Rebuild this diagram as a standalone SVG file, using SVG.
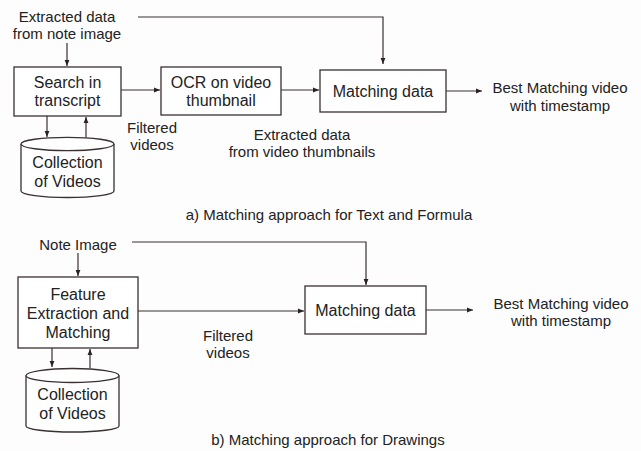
<svg xmlns="http://www.w3.org/2000/svg" width="641" height="451" viewBox="0 0 641 451">
<style>
.box{fill:#ffffff;stroke:#3a3030;stroke-width:1.3}
.cyl{fill:#ffffff;stroke:#3a3030;stroke-width:1.3}
.ln{fill:none;stroke:#3a3030;stroke-width:1.2}
.t{font-family:"Liberation Sans",Arial,sans-serif;font-size:16px;fill:#222;text-anchor:middle;dominant-baseline:central}
.s{font-family:"Liberation Sans",Arial,sans-serif;font-size:15px;fill:#222;text-anchor:middle;dominant-baseline:central}
</style>
<defs>
<marker id="ah" viewBox="0 0 10 10" refX="10" refY="5" markerWidth="6" markerHeight="6" markerUnits="userSpaceOnUse" orient="auto">
<path d="M0,1 L10,5 L0,9 z" fill="#2a2222"/>
</marker>
</defs>
<rect width="641" height="451" fill="#fdfdfd"/>

<g id="connectors">
<path class="ln" d="M138,17 H383 V64" marker-end="url(#ah)"/>
<path class="ln" d="M67,43 V66" marker-end="url(#ah)"/>
<path class="ln" d="M121,90 H160" marker-end="url(#ah)"/>
<path class="ln" d="M281,90 H319" marker-end="url(#ah)"/>
<path class="ln" d="M446,91 H482" marker-end="url(#ah)"/>
<path class="ln" d="M47,116 V137" marker-end="url(#ah)"/>
<path class="ln" d="M86,138 V117" marker-end="url(#ah)"/>

<path class="ln" d="M132,242 H366 V285" marker-end="url(#ah)"/>
<path class="ln" d="M78,253 V276" marker-end="url(#ah)"/>
<path class="ln" d="M138,311 H304" marker-end="url(#ah)"/>
<path class="ln" d="M426,310 H473" marker-end="url(#ah)"/>
<path class="ln" d="M52,348 V367" marker-end="url(#ah)"/>
<path class="ln" d="M90,368 V349" marker-end="url(#ah)"/>
</g>

<g id="label-note-a">
<text class="s" x="67" y="16">Extracted data</text>
<text class="s" x="67" y="33">from note image</text>
</g>

<g id="search">
<rect class="box" x="14" y="67" width="107" height="49"/>
<text class="t" x="67.5" y="82">Search in</text>
<text class="t" x="67.5" y="100">transcript</text>
</g>

<g id="ocr">
<rect class="box" x="161" y="67" width="120" height="48"/>
<text class="t" x="221" y="82">OCR on video</text>
<text class="t" x="221" y="100">thumbnail</text>
</g>

<g id="match-a">
<rect class="box" x="320" y="70" width="126" height="42"/>
<text class="t" x="383" y="91">Matching data</text>
</g>

<g id="out-a">
<text class="s" x="560" y="87">Best Matching video</text>
<text class="s" x="560" y="105">with timestamp</text>
</g>

<g id="filtered-a">
<text class="s" x="152" y="127">Filtered</text>
<text class="s" x="152" y="144">videos</text>
</g>

<g id="extracted-thumb">
<text class="s" x="302" y="134">Extracted data</text>
<text class="s" x="302" y="151">from video thumbnails</text>
</g>

<g id="videos-a">
<path class="cyl" d="M21,144 V191 A46.5,6.5 0 0 0 114,191 V144"/>
<ellipse class="cyl" cx="67.5" cy="144" rx="46.5" ry="6.7"/>
<text class="t" x="67.5" y="162">Collection</text>
<text class="t" x="67.5" y="181">of Videos</text>
</g>

<g id="caption-a">
<text class="s" x="329" y="214">a) Matching approach for Text and Formula</text>
</g>

<g id="label-note-b">
<text class="s" x="78" y="244">Note Image</text>
</g>

<g id="feature">
<rect class="box" x="18" y="277" width="120" height="71"/>
<text class="t" x="78" y="294">Feature</text>
<text class="t" x="78" y="313">Extraction and</text>
<text class="t" x="78" y="332">Matching</text>
</g>

<g id="match-b">
<rect class="box" x="305" y="286" width="121" height="48"/>
<text class="t" x="365.5" y="310">Matching data</text>
</g>

<g id="out-b">
<text class="s" x="561" y="303">Best Matching video</text>
<text class="s" x="561" y="320">with timestamp</text>
</g>

<g id="filtered-b">
<text class="s" x="228" y="335">Filtered</text>
<text class="s" x="228" y="352">videos</text>
</g>

<g id="videos-b">
<path class="cyl" d="M26,375.5 V426 A46.5,6 0 0 0 119,426 V375.5"/>
<ellipse class="cyl" cx="72.5" cy="375.5" rx="46.5" ry="7"/>
<text class="t" x="72.5" y="394">Collection</text>
<text class="t" x="72.5" y="413">of Videos</text>
</g>

<g id="caption-b">
<text class="s" x="328" y="439">b) Matching approach for Drawings</text>
</g>
</svg>
